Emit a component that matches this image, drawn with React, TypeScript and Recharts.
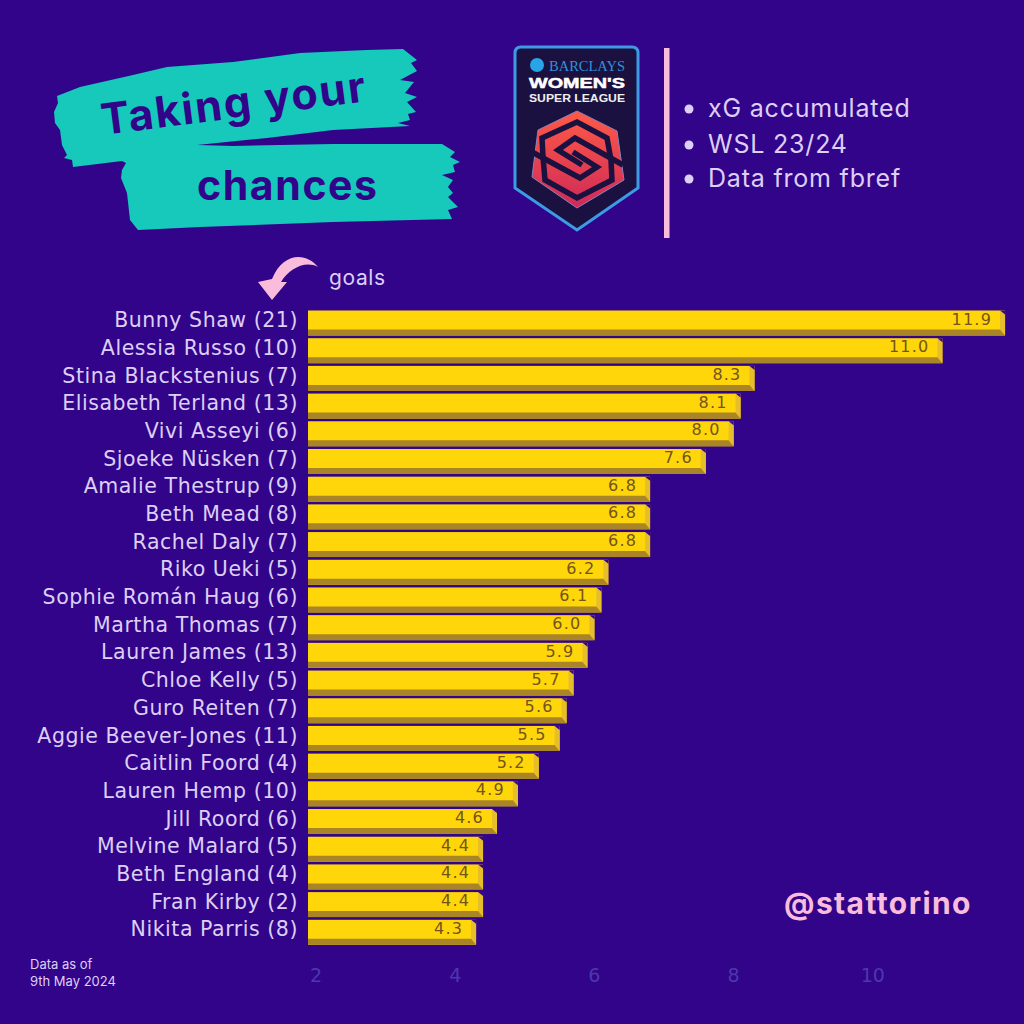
import React from 'react'
import { Bar, BarChart, LabelList, XAxis, YAxis } from 'recharts'

const players = [
  'Bunny Shaw', 'Alessia Russo', 'Stina Blackstenius', 'Elisabeth Terland', 'Vivi Asseyi', 'Sjoeke Nüsken',
  'Amalie Thestrup', 'Beth Mead', 'Rachel Daly', 'Riko Ueki', 'Sophie Román Haug', 'Martha Thomas',
  'Lauren James', 'Chloe Kelly', 'Guro Reiten', 'Aggie Beever-Jones', 'Caitlin Foord', 'Lauren Hemp',
  'Jill Roord', 'Melvine Malard', 'Beth England', 'Fran Kirby', 'Nikita Parris'
]
const goals = [21, 10, 7, 13, 6, 7, 9, 8, 7, 5, 6, 7, 13, 5, 7, 11, 4, 10, 6, 5, 4, 2, 8]
const xg = [11.9, 11.0, 8.3, 8.1, 8.0, 7.6, 6.8, 6.8, 6.8, 6.2, 6.1, 6.0, 5.9, 5.7, 5.6, 5.5, 5.2, 4.9, 4.6, 4.4, 4.4, 4.4, 4.3]
const xTicks = [2, 4, 6, 8, 10]
const bullets = ['xG accumulated', 'WSL 23/24', 'Data from fbref']

const chartData = players.map((name, i) => ({ label: `${name} (${goals[i]})`, xg: xg[i] }))

const BG = '#32048a'
const TEAL = '#17c9bb'
const PINK = '#f9bddb'
const LILAC = '#ddcff5'
const NAVY = '#1b1140'
const LABEL_FONT = '"DejaVu Sans", sans-serif'
const HEAD_FONT = 'Inter, sans-serif'

const brushOutline =
  '57,96 80,87 133,75 167,67 233,62 300,53 367,50 403,49 417,60 411,63 417,71 400,80 414,82 405,93 417,97 407,102 416,112 408,114 410,120 398,123 410,126 333,130 267,138 197,145 233,146 333,144 442,144 455,152 450,157 460,162 453,165 455,172 442,175 453,180 448,187 453,193 448,197 458,207 448,210 452,219 333,222 200,227 138,230 130,220 127,193 121,178 122,170 126,163 122,161 73,167 72,160 64,158 67,155 62,145 60,130 55,123 54,112 58,103'

function BevelBar(props: any) {
  const { x = 0, y = 0, width = 0, height = 0 } = props
  const r = x + width
  const b = y + height
  return (
    <g>
      <rect x={x} y={y} width={width} height={height} fill="#ffd60a" />
      <polygon points={`${r - 5},${y} ${r},${y + 4} ${r},${b} ${r - 5},${b - 6}`} fill="#e6bd2a" />
      <polygon points={`${x},${b - 6} ${r - 5},${b - 6} ${r},${b} ${x},${b}`} fill="#a98526" />
      <polygon points={`${r - 5},${y} ${r},${y} ${r},${y + 4}`} fill={BG} />
    </g>
  )
}

function ValueLabel(props: any) {
  const { x = 0, y = 0, width = 0, height = 0, value } = props
  return (
    <text
      x={x + width - 13}
      y={y + height / 2 - 3}
      fill="#73541c"
      textAnchor="end"
      dominantBaseline="middle"
      fontSize={16}
      letterSpacing={1.2}
      fontFamily={LABEL_FONT}
    >
      {Number(value).toFixed(1)}
    </text>
  )
}

function Decoration() {
  return (
    <svg width={1024} height={1024} style={{ position: 'absolute', left: 0, top: 0 }}>
      <defs>
        <linearGradient id="hexFill" x1="0" y1="0" x2="0" y2="1">
          <stop offset="0%" stopColor="#ff5a45" />
          <stop offset="100%" stopColor="#cf2a58" />
        </linearGradient>
      </defs>

      {/* brush strokes behind the title */}
      <polygon fill={TEAL} points={brushOutline} />
      <text x={0} y={0} transform="translate(103,135) rotate(-7.3)" fontFamily={HEAD_FONT} fontWeight={700} fontSize={43} letterSpacing={1.9} fill={BG}>
        Taking your
      </text>
      <text x={197} y={200} fontFamily={HEAD_FONT} fontWeight={700} fontSize={41} letterSpacing={1.6} fill={BG}>
        chances
      </text>

      {/* league badge */}
      <path d="M521,47 L632,47 Q638,47 638,53 L638,188 L577,230 L515,188 L515,53 Q515,47 521,47 Z" fill={NAVY} stroke="#3d9be6" strokeWidth={3} />
      <circle cx={537} cy={65} r={7} fill="#27a5e6" />
      <text x={549} y={71} fontFamily='"Liberation Serif", serif' fontSize={15} fill="#2f93d8" textLength={76} lengthAdjust="spacingAndGlyphs">BARCLAYS</text>
      <text x={529} y={88} fontFamily='"Liberation Sans", sans-serif' fontSize={14} fontWeight={700} stroke="#fff" strokeWidth={0.5} fill="#fff" textLength={96} lengthAdjust="spacingAndGlyphs">WOMEN'S</text>
      <text x={529} y={102} fontFamily='"Liberation Sans", sans-serif' fontSize={11} fontWeight={700} fill="#eee" textLength={96} lengthAdjust="spacingAndGlyphs">SUPER LEAGUE</text>
      <polygon points="577,111 617,131 624,180 577,208 532,177 538,130" fill="url(#hexFill)" stroke="#8a7fc0" strokeWidth={1} />
      <g fill="none" stroke={NAVY} strokeWidth={5.5} strokeLinejoin="miter">
        <polyline points="623,165 575,138 558,150 582,165" />
        <polyline points="532,152 580,178 597,167 573,152" />
        <polyline points="543,157 542,138 577,122 607,138 611,160" />
        <polyline points="611,160 612,180 577,198 545,180 543,157" />
      </g>

      {/* divider and bullet notes */}
      <rect x={664} y={48} width={5.5} height={190} fill={PINK} />
      {bullets.map((text, i) => (
        <g key={text}>
          <circle cx={689} cy={[109, 145, 179][i]} r={4.5} fill={LILAC} />
          <text x={708} y={[117, 153, 187][i]} fontFamily={HEAD_FONT} fontSize={25} letterSpacing={0.8} fill={LILAC}>
            {text}
          </text>
        </g>
      ))}

      {/* goals arrow */}
      <path d="M318,267 C306,252 283,252 272,279 L258,282 L272,300 L287,282 L281,282 C289,269 305,260 318,267 Z" fill={PINK} />
      <text x={329} y={285} fontFamily={HEAD_FONT} fontSize={21} letterSpacing={0.6} fill={LILAC}>goals</text>

      <text x={784} y={914} fontFamily={HEAD_FONT} fontWeight={700} fontSize={30} letterSpacing={1.4} fill={PINK}>@stattorino</text>
      <text x={30} y={969} fontFamily={HEAD_FONT} fontSize={13} fill={LILAC}>Data as of</text>
      <text x={30} y={986} fontFamily={HEAD_FONT} fontSize={13} fill={LILAC}>9th May 2024</text>
    </svg>
  )
}

export default function App() {
  return (
    <div style={{ position: 'absolute', left: 0, top: 0, width: 1024, height: 1024, background: BG, overflow: 'hidden' }}>
      <Decoration />
      <div style={{ position: 'absolute', left: 0, top: 0 }}>
        <BarChart
          width={1024}
          height={1024}
          data={chartData}
          layout="vertical"
          barCategoryGap={1.5}
          margin={{ top: 309, right: 8.5, bottom: 33, left: 8 }}
        >
          <XAxis
            type="number"
            domain={[1.885, 12.05]}
            ticks={xTicks}
            allowDataOverflow
            axisLine={false}
            tickLine={false}
            height={45}
            tick={{ fontSize: 19, fill: '#4c38ab', fontFamily: LABEL_FONT, dy: 15 }}
          />
          <YAxis
            type="category"
            dataKey="label"
            width={300}
            interval={0}
            axisLine={false}
            tickLine={false}
            tick={{ fontSize: 20.5, fill: LILAC, fontFamily: LABEL_FONT, letterSpacing: 0.55, dx: -2, dy: -3 }}
          />
          <Bar dataKey="xg" shape={BevelBar} isAnimationActive={false}>
            <LabelList dataKey="xg" content={ValueLabel} />
          </Bar>
        </BarChart>
      </div>
    </div>
  )
}
